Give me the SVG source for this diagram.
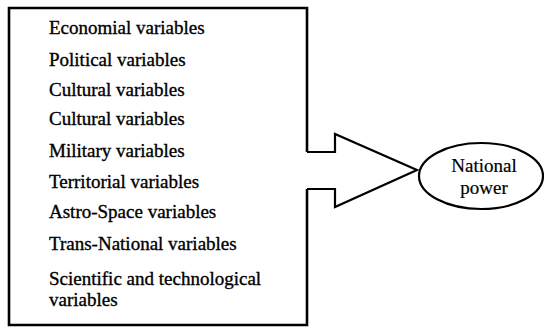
<svg xmlns="http://www.w3.org/2000/svg" width="545" height="333" viewBox="0 0 545 333">
<style>
.var{font-family:"Liberation Serif","Times New Roman",serif;font-size:19px;fill:#000;stroke:#000;stroke-width:0.35}
.lbl{font-family:"Liberation Serif","Times New Roman",serif;font-size:19px;fill:#000;stroke:#000;stroke-width:0.2;text-anchor:middle}
.box{fill:none;stroke:#000;stroke-width:2.6;stroke-linejoin:miter}
.ln{fill:none;stroke:#000;stroke-width:2.2;stroke-linejoin:miter}
</style>
<rect width="545" height="333" fill="#fff"/>
<g id="variables-box">
<path class="box" d="M307,152 L307,8 L9,8 L9,325 L307,325 L307,189"/>
<text class="var" x="49" y="34">Economial variables</text>
<text class="var" x="49" y="66">Political variables</text>
<text class="var" x="49" y="96">Cultural variables</text>
<text class="var" x="49" y="125">Cultural variables</text>
<text class="var" x="49" y="157">Military variables</text>
<text class="var" x="49" y="188">Territorial variables</text>
<text class="var" x="49" y="218">Astro-Space variables</text>
<text class="var" x="49" y="250">Trans-National variables</text>
<text class="var" x="49" y="285">Scientific and technological</text>
<text class="var" x="49" y="306">variables</text>
</g>
<g id="connectors">
<path class="ln" d="M307,152 L335,152 L335,134 L417,170 L335,207 L335,189 L307,189"/>
</g>
<g id="national-power">
<ellipse class="ln" cx="481" cy="176" rx="62" ry="33"/>
<text class="lbl" x="484" y="172">National</text>
<text class="lbl" x="484" y="194">power</text>
</g>
</svg>
